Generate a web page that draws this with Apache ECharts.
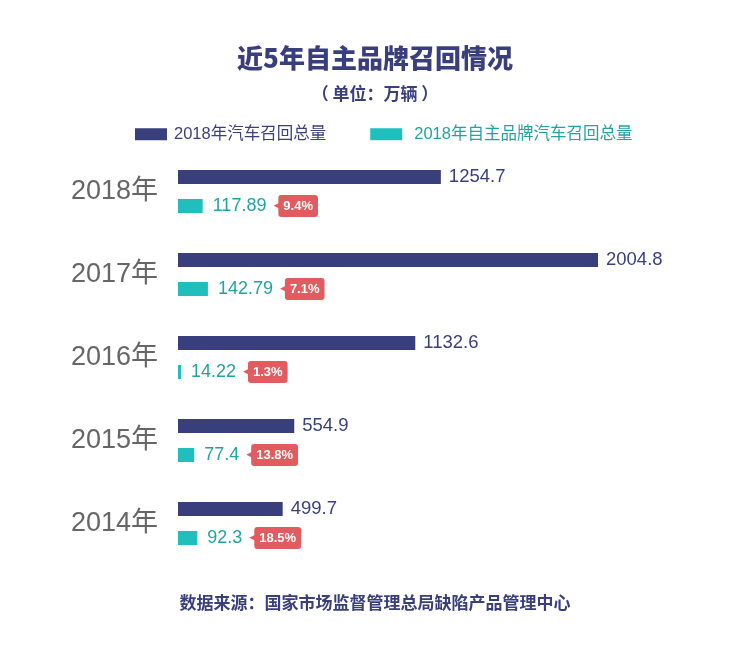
<!DOCTYPE html>
<html><head><meta charset="utf-8">
<script src="https://cdn.jsdelivr.net/npm/echarts@6/dist/echarts.min.js"></script>
<style>html,body{margin:0;padding:0;background:#fff}#c{width:750px;height:663px}</style>
</head><body><div id="c"></div>
<script>
var categories = ['2018年', '2017年', '2016年', '2015年', '2014年'];
var totalRecall = [1254.7, 2004.8, 1132.6, 554.9, 499.7];
var brandRecall = [117.89, 142.79, 14.22, 77.4, 92.3];
var brandShare = ['9.4%', '7.1%', '1.3%', '13.8%', '18.5%'];
var seriesNames = ['2018年汽车召回总量', '2018年自主品牌汽车召回总量'];

var NAVY = '#393f7d', TEAL = '#20bfbd', TEALTXT = '#22a3a1', RED = '#e15b5f';
var FONT = "'Liberation Sans', 'Noto Sans CJK SC', sans-serif";
var chart = echarts.init(document.getElementById('c'));
chart.setOption({
  backgroundColor: '#fff',
  animation: false,
  title: [
    {text: '近5年自主品牌召回情况', left: 'center', top: 40,
     textStyle: {fontSize: 26, fontWeight: 900, color: NAVY, fontFamily: "'Noto Sans CJK SC', serif"}},
    {text: '（ 单位：万辆 ）', left: 'center', top: 80,
     textStyle: {fontSize: 17, fontWeight: 'bold', color: NAVY, fontFamily: "'Noto Sans CJK SC', sans-serif"}},
    {text: '数据来源：国家市场监督管理总局缺陷产品管理中心', left: 'center', top: 589,
     textStyle: {fontSize: 17, fontWeight: 'bold', color: NAVY, fontFamily: "'Noto Sans CJK SC', sans-serif"}}
  ],
  legend: {
    top: 121, left: 130, itemWidth: 32, itemHeight: 12, itemGap: 44,
    textStyle: {fontSize: 16.5, fontFamily: FONT, padding: [0, 0, 0, 2]},
    data: [
      {name: seriesNames[0], icon: 'rect', textStyle: {color: NAVY}},
      {name: seriesNames[1], icon: 'rect', textStyle: {color: TEALTXT, padding: [0, 0, 0, 7]}}
    ]
  },
  grid: {left: 178, right: 152, top: 150, height: 415, containLabel: false},
  xAxis: {type: 'value', show: false, min: 0, max: function (v) { return v.max; }},
  yAxis: {
    type: 'category', inverse: true, data: categories,
    axisLine: {show: false}, axisTick: {show: false},
    axisLabel: {fontSize: 27, color: '#666', margin: 20, fontFamily: FONT}
  },
  series: [
    {
      name: seriesNames[0], type: 'bar', data: totalRecall, barWidth: 14, barGap: '107%',
      itemStyle: {color: NAVY},
      label: {show: true, position: 'right', distance: 8, color: NAVY, fontSize: 18.5, fontFamily: FONT}
    },
    {
      name: seriesNames[1], type: 'bar', data: brandRecall, barWidth: 14,
      itemStyle: {color: TEAL},
      label: {
        show: true, position: 'right', distance: 10,
        formatter: function (p) { return '{v|' + p.value + '}{s|}{a|◀}{t|' + brandShare[p.dataIndex] + '}'; },
        rich: {
          v: {fontSize: 18, color: TEALTXT, fontFamily: FONT},
          s: {width: 7},
          a: {fontSize: 9, color: RED, fontFamily: 'DejaVu Sans', padding: [0, -2, 0, 0]},
          t: {fontSize: 13, fontWeight: 'bold', color: '#fff', backgroundColor: RED, borderRadius: 3,
              padding: [5, 5, 4, 5], fontFamily: FONT}
        }
      }
    }
  ]
});
</script></body></html>
